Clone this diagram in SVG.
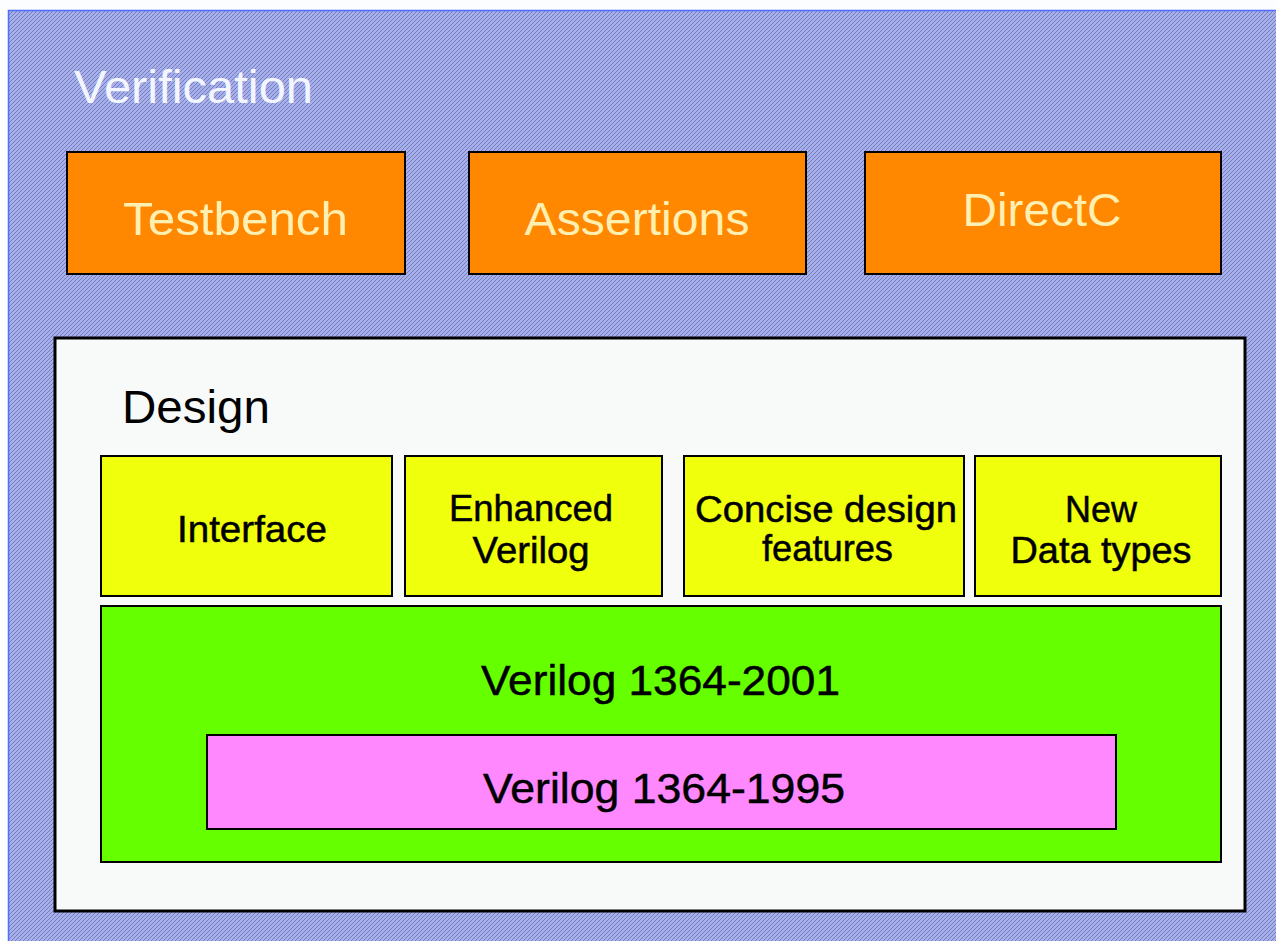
<svg xmlns="http://www.w3.org/2000/svg" width="1276" height="941" viewBox="0 0 1276 941">
  <defs>
    <pattern id="hatch" width="4" height="4" patternUnits="userSpaceOnUse">
      <rect width="4" height="4" fill="#a5aff2"/>
      <path d="M-1,1 L1,-1 M0,4 L4,0 M3,5 L5,3" stroke="#7880a8" stroke-width="1"/>
    </pattern>
  </defs>
  <style>
    .box { stroke: #000; stroke-width: 2; }
    .orange { fill: #ff8800; }
    .yellow { fill: #f0ff0c; }
    text { font-family: "Liberation Sans", Arial, sans-serif; }
    .lbl { text-anchor: middle; }
    .vlbl { fill: #ffefb0; font-size: 47px; }
    .dlbl { fill: #000; font-size: 37px; stroke: #000; stroke-width: 0.5; }
    .big { fill: #000; font-size: 43px; stroke: #000; stroke-width: 0.5; }
  </style>
  <rect width="1276" height="941" fill="#fcfdff"/>
  <!-- verification backdrop -->
  <g id="verification">
    <rect x="8" y="10" width="1268" height="931" fill="url(#hatch)"/>
    <path d="M8.5,941 V10.5 H1276" fill="none" stroke="#4f6cff" stroke-width="1.5"/>
    <text x="74" y="103" font-size="47" fill="#f4f6ff" textLength="239" lengthAdjust="spacingAndGlyphs">Verification</text>
  </g>
  <g id="testbench">
    <rect class="box orange" x="67" y="152" width="338" height="122"/>
    <text class="lbl vlbl" x="235.5" y="235" textLength="225" lengthAdjust="spacingAndGlyphs">Testbench</text>
  </g>
  <g id="assertions">
    <rect class="box orange" x="469" y="152" width="337" height="122"/>
    <text class="lbl vlbl" x="637" y="235" textLength="225" lengthAdjust="spacingAndGlyphs">Assertions</text>
  </g>
  <g id="directc">
    <rect class="box orange" x="865" y="152" width="356" height="122"/>
    <text class="lbl vlbl" x="1042" y="226" textLength="159" lengthAdjust="spacingAndGlyphs">DirectC</text>
  </g>
  <g id="design">
    <rect x="55" y="338" width="1190" height="573" fill="#f8fafa" stroke="#000" stroke-width="3"/>
    <text x="122" y="423" font-size="47" fill="#000" textLength="148" lengthAdjust="spacingAndGlyphs">Design</text>
  </g>
  <g id="interface">
    <rect class="box yellow" x="101" y="456" width="291" height="140"/>
    <text class="lbl dlbl" x="252" y="542" textLength="150" lengthAdjust="spacingAndGlyphs">Interface</text>
  </g>
  <g id="enhanced-verilog">
    <rect class="box yellow" x="405" y="456" width="257" height="140"/>
    <text class="lbl dlbl" x="531" y="521" textLength="164" lengthAdjust="spacingAndGlyphs">Enhanced</text>
    <text class="lbl dlbl" x="531" y="563" textLength="117" lengthAdjust="spacingAndGlyphs">Verilog</text>
  </g>
  <g id="concise-design">
    <rect class="box yellow" x="684" y="456" width="280" height="140"/>
    <text class="lbl dlbl" x="826" y="522" textLength="262" lengthAdjust="spacingAndGlyphs">Concise design</text>
    <text class="lbl dlbl" x="827.5" y="561" textLength="131" lengthAdjust="spacingAndGlyphs">features</text>
  </g>
  <g id="new-data-types">
    <rect class="box yellow" x="975" y="456" width="246" height="140"/>
    <text class="lbl dlbl" x="1101" y="522" textLength="72" lengthAdjust="spacingAndGlyphs">New</text>
    <text class="lbl dlbl" x="1101" y="563" textLength="181" lengthAdjust="spacingAndGlyphs">Data types</text>
  </g>
  <g id="verilog-2001">
    <rect class="box" x="101" y="606" width="1120" height="256" fill="#66ff00"/>
    <text class="lbl big" x="660.5" y="695" textLength="359" lengthAdjust="spacingAndGlyphs">Verilog 1364-2001</text>
  </g>
  <g id="verilog-1995">
    <rect class="box" x="207" y="735" width="909" height="94" fill="#ff88ff"/>
    <text class="lbl big" x="664" y="803" textLength="362" lengthAdjust="spacingAndGlyphs">Verilog 1364-1995</text>
  </g>
  <g id="connectors"/>
</svg>
